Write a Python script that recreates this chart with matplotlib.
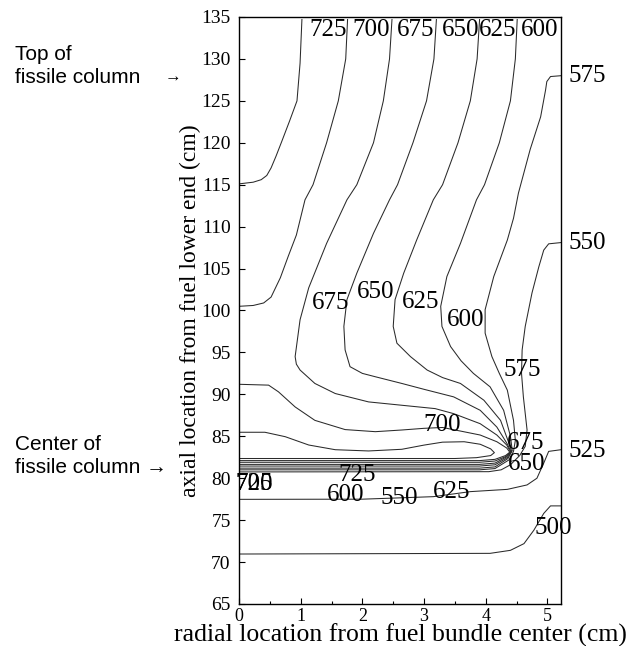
import matplotlib
matplotlib.use("Agg")
import matplotlib.pyplot as plt
from matplotlib.ticker import MultipleLocator

# isolines (radial cm, axial cm)
x_725 = [0.00, 0.23, 0.36, 0.45, 0.52, 0.60, 0.69, 0.82, 0.94, 0.99, 1.02]
y_725 = [115.1, 115.3, 115.6, 116.1, 117.0, 118.4, 120.1, 122.6, 125.0, 129.5, 134.7]

x_700 = [0.00, 0.23, 0.40, 0.52, 0.67, 0.80, 0.93, 1.07, 1.20, 1.42, 1.61, 1.73, 1.76]
y_700 = [100.5, 100.6, 100.9, 101.6, 103.9, 106.5, 109.0, 113.2, 115.0, 120.0, 125.0, 130.0, 134.7]

x_675 = [2.48, 2.44, 2.34, 2.18, 1.91, 1.75, 1.42, 1.13, 0.99, 0.91, 0.93, 0.99, 1.23, 1.56,
         2.10, 2.64, 3.18, 3.48, 3.91, 4.18, 4.34, 4.40, 4.33, 4.15, 3.90, 0.00]
y_675 = [134.7, 130.0, 125.0, 120.0, 115.0, 113.2, 108.0, 102.7, 98.9, 94.5, 93.6, 92.9, 91.3, 90.1,
         89.1, 88.7, 88.3, 87.7, 86.5, 85.15, 83.96, 83.16, 82.6, 82.05, 81.9, 81.9]

x_650 = [3.20, 3.16, 3.04, 2.82, 2.57, 2.44, 2.18, 1.91, 1.75, 1.70, 1.72, 1.80, 2.00, 2.21,
         2.64, 3.00, 3.48, 3.91, 4.18, 4.34, 4.41, 4.34, 4.15, 3.90, 0.00]
y_650 = [134.7, 130.0, 125.0, 120.0, 115.0, 113.2, 109.2, 104.45, 101.3, 98.1, 95.3, 93.3, 92.5, 92.1,
         91.3, 90.6, 89.7, 88.1, 86.1, 84.2, 83.2, 82.55, 81.8, 81.65, 81.65]

x_625 = [3.90, 3.86, 3.75, 3.55, 3.30, 3.15, 2.88, 2.67, 2.53, 2.50, 2.56, 2.78, 3.05, 3.30,
         3.59, 3.97, 4.24, 4.37, 4.42, 4.35, 4.15, 3.90, 0.00]
y_625 = [134.7, 130.0, 125.0, 120.0, 115.0, 113.2, 108.4, 104.45, 101.3, 98.1, 96.1, 94.5, 92.9, 92.0,
         91.3, 89.3, 86.9, 84.3, 83.2, 82.45, 81.6, 81.45, 81.45]

x_600 = [4.51, 4.48, 4.40, 4.22, 3.98, 3.85, 3.59, 3.37, 3.27, 3.29, 3.43, 3.60, 3.80, 4.07,
         4.29, 4.40, 4.43, 4.36, 4.15, 3.90, 0.00]
y_600 = [134.7, 130.0, 125.0, 120.0, 115.0, 113.2, 108.0, 104.05, 100.5, 98.1, 95.7, 94.0, 92.5, 90.9,
         88.1, 85.0, 83.3, 82.35, 81.35, 81.2, 81.2]

x_575 = [5.22, 5.05, 4.99, 4.97, 4.89, 4.72, 4.53, 4.45, 4.35, 4.13, 3.99, 3.99, 4.10, 4.22,
         4.35, 4.45, 4.48, 4.45, 4.38, 4.15, 3.90, 0.00]
y_575 = [128.0, 127.9, 127.3, 126.3, 123.1, 119.2, 114.0, 111.0, 108.4, 104.05, 100.1, 97.3, 94.5, 92.5,
         90.5, 86.9, 84.5, 83.2, 82.2, 81.15, 81.0, 81.0]

x_550 = [5.22, 5.02, 4.94, 4.86, 4.75, 4.64, 4.59, 4.58, 4.61, 4.67, 4.64, 4.55, 4.40, 4.25, 4.05, 0.00]
y_550 = [108.1, 107.95, 107.2, 105.2, 102.1, 98.1, 95.3, 92.5, 89.7, 85.75, 83.8, 82.7, 81.6, 81.0, 80.78, 80.75]

x_700b = [0.00, 0.48, 0.64, 0.91, 1.23, 1.72, 2.21, 2.64, 3.00, 3.30, 3.64, 3.91, 4.18, 4.34,
          4.39, 4.32, 4.15, 3.90, 0.00]
y_700b = [91.2, 91.1, 90.3, 88.5, 86.9, 85.8, 85.55, 85.75, 85.95, 86.05, 85.55, 85.15, 84.35, 83.6,
          83.1, 82.7, 82.25, 82.1, 82.1]

x_725b = [0.00, 0.42, 0.75, 1.13, 1.56, 2.10, 2.64, 3.00, 3.30, 3.65, 3.91, 4.08, 4.14, 4.08,
          3.85, 3.50, 0.00]
y_725b = [85.48, 85.48, 84.95, 83.96, 83.4, 83.25, 83.45, 83.95, 84.3, 84.35, 84.05, 83.5, 83.05, 82.7,
          82.45, 82.35, 82.35]

x_525 = [0.00, 2.00, 3.15, 3.75, 4.35, 4.67, 4.83, 4.94, 5.02, 5.22]
y_525 = [77.48, 77.5, 77.8, 78.4, 78.67, 79.2, 80.0, 81.8, 83.2, 83.4]

x_500 = [0.00, 4.07, 4.40, 4.62, 4.78, 4.94, 5.05, 5.22]
y_500 = [70.96, 71.04, 71.4, 72.2, 73.8, 75.8, 76.7, 76.7]

# level labels as printed in the figure
lbl_text = ["725", "700", "675", "650", "625", "600", "575", "550", "525", "500",
            "675", "650", "625", "600", "575", "700", "675", "650", "725",
            "700", "725", "600", "550", "625"]
lbl_x = [1.45, 2.14, 2.87, 3.59, 4.20, 4.87, 5.64, 5.64, 5.64, 5.09,
         1.49, 2.22, 2.95, 3.68, 4.59, 3.30, 4.64, 4.66, 1.92,
         0.25, 0.25, 1.73, 2.60, 3.44]
lbl_y = [133.4, 133.4, 133.4, 133.4, 133.4, 133.4, 128.0, 108.0, 83.2, 74.1,
         100.9, 102.2, 101.0, 98.9, 92.9, 86.35, 84.2, 81.7, 80.4,
         79.3, 79.3, 78.0, 77.6, 78.4]

lines = [(x_725, y_725), (x_700, y_700), (x_675, y_675), (x_650, y_650),
         (x_625, y_625), (x_600, y_600), (x_575, y_575), (x_550, y_550),
         (x_700b, y_700b), (x_725b, y_725b), (x_525, y_525), (x_500, y_500)]

serif = ["Liberation Serif", "DejaVu Serif"]
sans = ["Liberation Sans", "DejaVu Sans"]

fig = plt.figure(figsize=(6.34, 6.46), dpi=100)
ax = fig.add_axes([239 / 634, 1 - 604 / 646, 322 / 634, 587 / 646])

for xs, ys in lines:
    ax.plot(xs, ys, color="#2a2a2a", lw=0.75, solid_joinstyle="round")

for t, lx, ly in zip(lbl_text, lbl_x, lbl_y):
    ax.text(lx, ly, t, ha="center", va="center", fontsize=18, family=serif, clip_on=False)

ax.set_xlim(0, 5.22)
ax.set_ylim(65, 135)
ax.xaxis.set_major_locator(MultipleLocator(1))
ax.xaxis.set_minor_locator(MultipleLocator(0.5))
ax.yaxis.set_major_locator(MultipleLocator(5))
ax.tick_params(direction="in", length=4, width=0.8, pad=6)
ax.tick_params(which="minor", direction="in", length=2, width=0.8)
ax.tick_params(axis="x", labelsize=13, pad=3)
ax.tick_params(axis="y", labelsize=14)
for lab in ax.get_xticklabels() + ax.get_yticklabels():
    lab.set_family(serif)
for sp in ax.spines.values():
    sp.set_linewidth(1.0)

ax.set_xlabel("radial location from fuel bundle center (cm)", fontsize=18.5, family=serif, va="center")
ax.xaxis.set_label_coords(0.5, -0.054)
ax.set_ylabel("axial location from fuel lower end (cm)", fontsize=17, family=serif, va="center")
ax.yaxis.set_label_coords(-0.150, 0.5)

fig.text(15 / 634, 1 - 60 / 646, "Top of", fontsize=15, family=sans, va="baseline")
fig.text(15 / 634, 1 - 83 / 646, "fissile column", fontsize=15, family=sans, va="baseline")
fig.text(173 / 634, 1 - 77 / 646, "\u2192", fontsize=12, family=sans, ha="center", va="center")
fig.text(15 / 634, 1 - 450 / 646, "Center of", fontsize=15, family=sans, va="baseline")
fig.text(15 / 634, 1 - 473 / 646, "fissile column \u2192", fontsize=15, family=sans, va="baseline")

fig.savefig("out.png", dpi=100)
